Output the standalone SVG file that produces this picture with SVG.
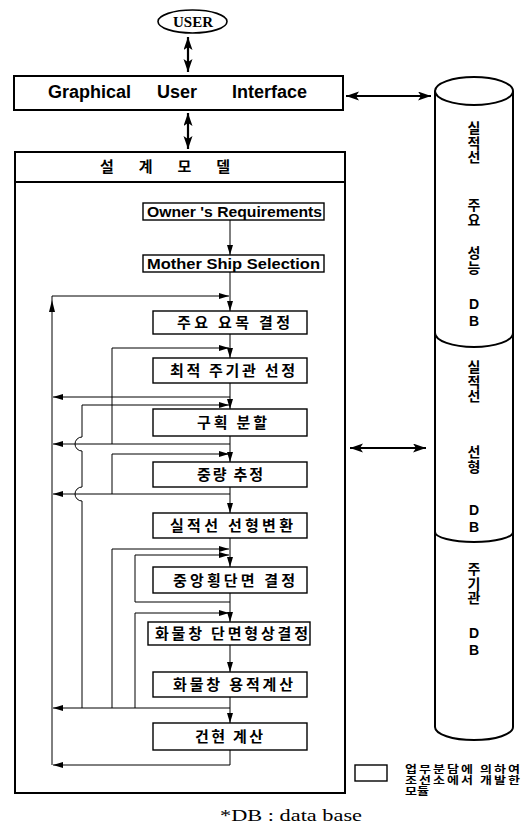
<svg xmlns="http://www.w3.org/2000/svg" width="525" height="831" viewBox="0 0 525 831">
<defs>
<marker id="a" markerUnits="userSpaceOnUse" markerWidth="11" markerHeight="7" refX="10" refY="3" orient="auto"><path d="M0,0 L10,3 L0,6 Z" fill="#000"/></marker>
<marker id="b" markerUnits="userSpaceOnUse" markerWidth="14" markerHeight="10" refX="13" refY="4.5" orient="auto-start-reverse"><path d="M0,0 L13,4.5 L0,9 L3,4.5 Z" fill="#000"/></marker>
</defs>
<style>
.box{fill:#fff;stroke:#000;stroke-width:1.4}
.ko{font-family:"Noto Sans CJK KR",sans-serif;font-weight:bold;font-size:15px;fill:#000}
.en{font-family:"Liberation Sans",Arial,sans-serif;font-weight:bold;fill:#000}
.ln{fill:none;stroke:#000;stroke-width:1}
.big{fill:none;stroke:#000;stroke-width:2.2}
.cy{fill:none;stroke:#000;stroke-width:2}
.v{font-family:"Noto Sans CJK KR",sans-serif;font-weight:bold;font-size:14px;writing-mode:vertical-rl;text-orientation:upright;letter-spacing:0.5px}
.vl{font-family:"Liberation Sans",Arial,sans-serif;font-weight:bold;font-size:14px;writing-mode:vertical-rl;text-orientation:upright;letter-spacing:1px}
</style>
<rect width="525" height="831" fill="#fff"/>

<g id="user">
<ellipse cx="192.5" cy="21.5" rx="34.5" ry="11.5" fill="#fff" stroke="#000" stroke-width="1.6"/>
<text x="173" y="27" font-family="Liberation Serif,serif" font-weight="bold" font-size="14.5" textLength="40" lengthAdjust="spacingAndGlyphs">USER</text>
</g>

<g id="gui">
<rect x="14" y="76" width="329" height="34" fill="#fff" stroke="#000" stroke-width="2"/>
<text class="en" font-size="18" y="98"><tspan x="48">Graphical</tspan><tspan x="157">User</tspan><tspan x="232">Interface</tspan></text>
</g>

<g id="design-model">
<rect x="15" y="152" width="330" height="641" fill="none" stroke="#000" stroke-width="2"/>
<line x1="15" y1="182" x2="345" y2="182" stroke="#000" stroke-width="2"/>
<text class="ko" font-size="17" x="100" y="172" textLength="130" lengthAdjust="spacing">설 계 모 델</text>
</g>

<g id="db">
<path class="cy" d="M435,91 V727 A39,13 0 0 0 513,727 V91"/>
<ellipse class="cy" cx="474" cy="91" rx="39" ry="14"/>
<path class="cy" d="M435,333 A39,14 0 0 0 513,333"/>
<path class="cy" d="M435,532 A39,10 0 0 0 513,532"/>
<text class="v" x="474" y="121">실적선</text>
<text class="v" x="474" y="198">주요</text>
<text class="v" x="474" y="246">성능</text>
<text class="vl" x="474" y="296">DB</text>
<text class="v" x="474" y="360">실적선</text>
<text class="v" x="474" y="445">선형</text>
<text class="vl" x="474" y="502">DB</text>
<text class="v" x="474" y="562">주기관</text>
<text class="vl" x="474" y="625">DB</text>
</g>

<g id="n-owner"><rect class="box" x="143" y="203" width="181" height="17"/>
<text class="en" font-size="15.5" x="147" y="217" textLength="175" lengthAdjust="spacingAndGlyphs">Owner 's Requirements</text></g>
<g id="n-mother"><rect class="box" x="143" y="255" width="181" height="17"/>
<text class="en" font-size="15.5" x="147" y="268.5" textLength="173" lengthAdjust="spacingAndGlyphs">Mother Ship Selection</text></g>
<g id="n1"><rect class="box" x="153" y="311" width="154" height="23"/>
<text class="ko" x="177" y="328" textLength="113" lengthAdjust="spacing">주요 요목 결정</text></g>
<g id="n2"><rect class="box" x="153" y="358" width="154" height="25"/>
<text class="ko" x="170" y="376" textLength="125" lengthAdjust="spacing">최적 주기관 선정</text></g>
<g id="n3"><rect class="box" x="153" y="409" width="154" height="27"/>
<text class="ko" x="197" y="428" textLength="70" lengthAdjust="spacing">구획 분할</text></g>
<g id="n4"><rect class="box" x="153" y="462" width="154" height="25"/>
<text class="ko" x="197" y="480" textLength="66" lengthAdjust="spacing">중량 추정</text></g>
<g id="n5"><rect class="box" x="153" y="513" width="154" height="25"/>
<text class="ko" x="170" y="531" textLength="123" lengthAdjust="spacing">실적선 선형변환</text></g>
<g id="n6"><rect class="box" x="153" y="567" width="154" height="26"/>
<text class="ko" x="173" y="586" textLength="122" lengthAdjust="spacing">중앙횡단면 결정</text></g>
<g id="n7"><rect class="box" x="148" y="622" width="162" height="23"/>
<text class="ko" x="155" y="639" textLength="153" lengthAdjust="spacing">화물창 단면형상결정</text></g>
<g id="n8"><rect class="box" x="153" y="672" width="154" height="25"/>
<text class="ko" x="173" y="690" textLength="120" lengthAdjust="spacing">화물창 용적계산</text></g>
<g id="n9"><rect class="box" x="153" y="723" width="154" height="27"/>
<text class="ko" x="195" y="742" textLength="68" lengthAdjust="spacing">건현 계산</text></g>

<g id="connectors">
<path class="big" d="M188,37 V72" marker-start="url(#b)" marker-end="url(#b)"/>
<path class="big" d="M188,113 V149" marker-start="url(#b)" marker-end="url(#b)"/>
<path class="big" d="M346,96 H431" marker-start="url(#b)" marker-end="url(#b)"/>
<path class="big" d="M350,448 H426" marker-start="url(#b)" marker-end="url(#b)"/>

<g class="ln">
<path d="M230,220 V255" marker-end="url(#a)"/>
<path d="M230,272 V311" marker-end="url(#a)"/>
<path d="M230,334 V358" marker-end="url(#a)"/>
<path d="M230,383 V409" marker-end="url(#a)"/>
<path d="M230,436 V462" marker-end="url(#a)"/>
<path d="M230,487 V513" marker-end="url(#a)"/>
<path d="M230,538 V567" marker-end="url(#a)"/>
<path d="M230,593 V622" marker-end="url(#a)"/>
<path d="M230,645 V672" marker-end="url(#a)"/>
<path d="M230,697 V723" marker-end="url(#a)"/>
<path d="M230,750 V765 H53" marker-end="url(#a)"/>
<path d="M230,397 H53" marker-end="url(#a)"/>
<path d="M230,444 H53" marker-end="url(#a)"/>
<path d="M230,494 H53" marker-end="url(#a)"/>
<path d="M230,708 H53" marker-end="url(#a)"/>
<path d="M52,765 V296 H229" marker-end="url(#a)"/>
<path d="M112,444 V348 H229" marker-end="url(#a)"/>
<path d="M112,494 V454 H229" marker-end="url(#a)"/>
<path d="M112,708 V549 H229" marker-end="url(#a)"/>
<path d="M82,708 V501 A7,7 0 0 1 82,487 V451 A7,7 0 0 1 82,437 V405 H229" marker-end="url(#a)"/>
<path d="M230,602 H135 V555 H229" marker-end="url(#a)"/>
<path d="M135,708 V613 H229" marker-end="url(#a)"/>
</g>
<polygon points="52,300 49,312 55,312" fill="#000"/>
</g>

<g id="legend">
<rect x="355" y="765" width="32" height="16" fill="#fff" stroke="#000" stroke-width="1.4"/>
<g transform="translate(0,773) scale(1,0.8)">
<text font-family="Noto Sans CJK KR,sans-serif" font-weight="bold" font-size="13">
<tspan x="405" y="0" textLength="115" lengthAdjust="spacing">업무분담에 의하여</tspan>
<tspan x="405" y="13.75" textLength="115" lengthAdjust="spacing">조선소에서 개발한</tspan>
<tspan x="405" y="27.5">모듈</tspan>
</text>
</g>
</g>

<text x="220" y="821" font-family="Liberation Serif,serif" font-size="17" textLength="142" lengthAdjust="spacingAndGlyphs">*DB : data base</text>
</svg>
